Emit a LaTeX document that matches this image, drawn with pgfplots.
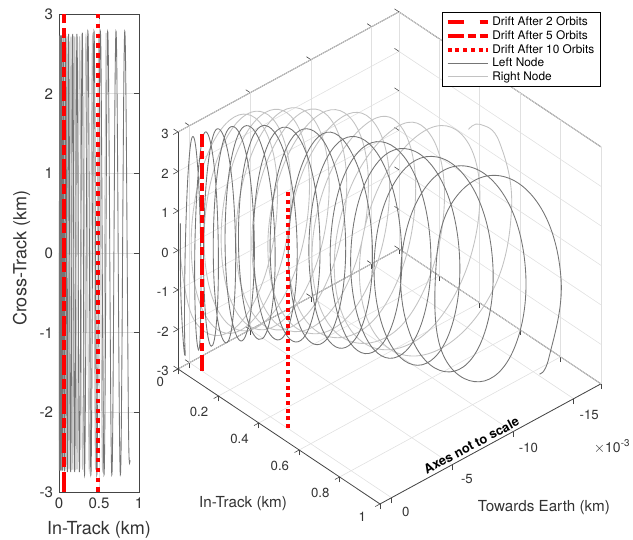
\documentclass[border=0pt]{standalone}
\usepackage{pgfplots}
\usepackage{pgfplotstable}
\usepackage{fontspec}
\setmainfont{TeX Gyre Heros}
\pgfplotsset{compat=1.18}
\definecolor{axc}{gray}{0.27}
\definecolor{darkc}{gray}{0.46}
\definecolor{lightc}{gray}{0.76}
\definecolor{gridc}{gray}{0.88}
% in-track (km), towards earth (1e-3 km), cross-track (km)
\pgfplotstableread{
0 0.8 0
0.004 -0.26 -1.92
0.008 -3.05 -2.72
0.0107 -5.82 -1.92
0.0133 -7.02 0
0.016 -5.99 1.92
0.0186 -3.39 2.72
0.0205 -0.79 1.92
0.0223 0.23 0
0.0242 -0.97 -1.92
0.026 -3.75 -2.72
0.0283 -6.61 -1.92
0.0305 -7.85 0
0.0328 -6.81 1.92
0.035 -4.15 2.72
0.0388 -1.52 1.92
0.0425 -0.5 0
0.0463 -1.77 -1.92
0.05 -4.65 -2.72
0.0548 -7.59 -1.92
0.0595 -8.88 0
0.0643 -7.82 1.92
0.069 -5.1 2.72
0.073 -2.38 1.92
0.077 -1.33 0
0.081 -2.61 -1.92
0.085 -5.55 -2.72
0.089 -8.62 -1.92
0.093 -9.95 0
0.097 -8.82 1.92
0.101 -5.95 2.72
0.107 -3.08 1.92
0.113 -1.95 0
0.119 -3.28 -1.92
0.125 -6.35 -2.72
0.131 -9.33 -1.92
0.1375 -10.65 0
0.144 -9.53 1.92
0.15 -6.75 2.72
0.156 -3.67 1.92
0.1615 -2.45 0
0.167 -3.87 -1.92
0.173 -7.15 -2.72
0.179 -10.29 -1.92
0.185 -11.65 0
0.191 -10.49 1.92
0.197 -7.55 2.72
0.204 -4.26 1.92
0.211 -2.95 0
0.218 -4.46 -1.92
0.225 -7.95 -2.72
0.233 -11.11 -1.92
0.2415 -12.45 0
0.25 -11.31 1.92
0.258 -8.35 2.72
0.267 -4.87 1.92
0.2765 -3.5 0
0.286 -5.12 -1.92
0.295 -8.85 -2.72
0.3055 -12 -1.92
0.316 -13.35 0
0.3265 -12.25 1.92
0.337 -9.35 2.72
0.347 -5.63 1.92
0.3575 -4.15 0
0.368 -5.83 -1.92
0.378 -9.75 -2.72
0.3885 -12.97 -1.92
0.399 -14.35 0
0.4095 -13.14 1.92
0.42 -10.1 2.72
0.4295 -6.18 1.92
0.439 -4.63 0
0.4485 -6.41 -1.92
0.458 -10.55 -2.72
0.468 -14.33 -1.92
0.478 -15.95 0
0.488 -14.56 1.92
0.498 -11 2.72
0.51 -6.94 1.92
0.5215 -5.33 0
0.533 -7.17 -1.92
0.545 -11.45 -2.72
0.557 -15.65 -1.92
0.5695 -17.05 0
0.582 -15.85 1.92
0.588 -14.15 2.68
0.591 -13.15 2.73
}\rightnode
\pgfplotstableread{
0 0.75 0.65
0.001 0.75 -0.9
0.003 0.6 -2.2
0.005 0.45 -2.72
0.0058 0.51 -1.86
0.0065 0.45 0.1
0.0073 0.21 2
0.008 -0.15 2.73
0.009 -0.53 1.86
0.01 -0.75 -0.1
0.011 -0.73 -2
0.012 -0.55 -2.73
0.0135 -0.26 -1.86
0.015 -0.2 0.1
0.0165 -0.51 2
0.018 -1.05 2.73
0.02 -1.7 1.75
0.022 -2 -0.24
0.024 -1.85 -2.09
0.026 -1.35 -2.72
0.0273 -0.84 -1.75
0.0285 -0.7 0.24
0.0298 -1.09 2.09
0.031 -1.85 2.72
0.0345 -2.73 1.75
0.038 -3.15 -0.24
0.0415 -2.93 -2.09
0.045 -2.25 -2.72
0.047 -1.43 -1.75
0.049 -1.15 0.24
0.051 -1.63 2.09
0.053 -2.65 2.72
0.0573 -3.78 1.75
0.0615 -4.3 -0.24
0.0658 -3.98 -2.09
0.07 -3.05 -2.72
0.0738 -2.02 -1.58
0.0775 -1.65 0.48
0.0813 -2.22 2.25
0.085 -3.45 2.71
0.09 -4.82 1.58
0.095 -5.45 -0.48
0.1 -5.07 -2.25
0.105 -3.95 -2.71
0.1093 -2.65 -1.58
0.1135 -2.15 0.48
0.1178 -2.8 2.25
0.122 -4.25 2.71
0.1285 -5.86 1.58
0.135 -6.6 -0.48
0.1415 -6.11 -2.25
0.148 -4.75 -2.71
0.1543 -3.2 -1.58
0.1605 -2.6 0.48
0.1668 -3.35 2.25
0.173 -5.05 2.71
0.1793 -6.85 1.58
0.1855 -7.65 -0.48
0.1918 -7.05 -2.25
0.198 -5.45 -2.71
0.205 -3.76 -1.58
0.212 -3.13 0.48
0.219 -3.99 2.25
0.226 -5.9 2.71
0.2338 -7.93 1.58
0.2415 -8.83 -0.48
0.2493 -8.1 -2.25
0.257 -6.25 -2.71
0.266 -4.33 -1.58
0.275 -3.6 0.48
0.284 -4.58 2.25
0.293 -6.75 2.71
0.3 -8.99 1.39
0.3075 -9.95 -0.72
0.3148 -9.09 -2.41
0.322 -6.95 -2.69
0.333 -4.9 -1.39
0.3435 -4.15 0.72
0.354 -5.25 2.41
0.365 -7.65 2.69
0.374 -10.08 1.39
0.3835 -11.1 -0.72
0.393 -10.13 -2.41
0.402 -7.75 -2.69
0.412 -5.46 -1.39
0.4215 -4.6 0.72
0.431 -5.81 2.41
0.441 -8.45 2.69
0.45 -11.13 1.39
0.4585 -12.25 -0.72
0.467 -11.18 -2.41
0.476 -8.55 -2.69
0.487 -5.99 -1.39
0.4985 -5 0.72
0.51 -6.24 2.41
0.521 -9.05 2.69
0.5325 -11.96 1.39
0.544 -13.2 -0.72
0.5555 -12.11 -2.41
0.567 -9.35 -2.69
0.5785 -6.52 -1.39
0.59 -5.4 0.72
0.6015 -6.72 2.41
0.613 -9.75 2.69
0.626 -12.94 1.39
0.639 -14.35 -0.72
0.652 -13.24 -2.41
0.665 -10.35 -2.69
0.678 -7.2 -1.39
0.691 -5.9 0.72
0.704 -7.25 2.41
0.717 -10.45 2.69
0.7308 -13.82 1.39
0.7445 -15.3 -0.72
0.7583 -14.12 -2.41
0.772 -11.05 -2.69
0.7858 -7.78 -1.39
0.7995 -6.95 0.72
0.8133 -7.9 2.41
0.827 -11.25 2.69
0.842 -14.8 1.39
0.857 -16.35 -0.72
0.872 -15.1 -2.41
0.8875 -14.05 -2.6
}\leftnode
\tikzset{
 drifttwo/.style={red,line width=3pt,dash pattern=on 12pt off 12pt},
 driftfive/.style={red,line width=3pt,dash pattern=on 12pt off 3pt on 6pt off 3pt},
 driftten/.style={red,line width=3pt,dash pattern=on 3pt off 2.8pt},
 drifttwob/.style={red,line width=3pt,dash pattern=on 14.6pt off 14.7pt},
 driftfiveb/.style={red,line width=3pt,dash pattern=on 15pt off 3.4pt on 7.5pt off 3.4pt},
 drifttenb/.style={red,line width=3pt,dash pattern=on 3.4pt off 4pt},
 leftline/.style={darkc,line width=0.65pt},
 rightline/.style={lightc,line width=0.65pt}
}
\begin{document}
\begin{tikzpicture}
\path[use as bounding box] (0pt,0pt) rectangle (474.75pt,405pt);
% ---- left view
\begin{axis}[
 at={(44.25pt,36pt)},anchor=south west,scale only axis,
 width=60pt,height=358.5pt,
 xmin=0,xmax=1,ymin=-3,ymax=3,
 xtick={0,0.5,1},xticklabels={0,0.5,1},
 ytick={-3,-2,-1,0,1,2,3},yticklabels={-3,-2,-1,0,1,2,3},
 tick align=inside,tick pos=both,major tick length=3.5pt,
 axis line style={axc,line width=0.55pt},tick style={axc,line width=0.45pt},
 grid=major,grid style={gridc,line width=0.4pt},
 ticklabel style={font=\fontsize{11.3pt}{13pt}\selectfont,text=black!80},
 xticklabel style={yshift=-1pt},
 yticklabel style={xshift=-1pt},
 xlabel={In-Track (km)},ylabel={Cross-Track (km)},
 label style={font=\fontsize{13.5pt}{15pt}\selectfont,text=black!80},
 xlabel style={yshift=-2.5pt},
 ylabel style={yshift=0.25pt,xshift=-3.75pt},
 clip=true,axis on top=false]
\addplot[rightline,smooth,tension=0.68] table[x index=0,y index=2] {\rightnode};
\addplot[leftline,smooth,tension=0.68] table[x index=0,y index=2] {\leftnode};
\addplot[drifttwob] coordinates {(0.065,-3) (0.065,3)};
\addplot[driftfiveb] coordinates {(0.065,-3) (0.065,3)};
\addplot[drifttenb] coordinates {(0.49,-3) (0.49,3)};
\end{axis}
% ---- 3-D view
\begin{axis}[
 at={(142.15pt,221.85pt)},anchor=origin,
 x={(151.5pt,-101.25pt)},y={(9.105pt,4.95pt)},z={(0pt,29.625pt)},
 y dir=reverse,
 xmin=0,xmax=1,ymin=-17.25,ymax=0.95,zmin=-3,zmax=3,
 xtick={0,0.2,0.4,0.6,0.8,1},xticklabels={0,0.2,0.4,0.6,0.8,1},
 ytick={-15,-10,-5,0},yticklabels={-15,-10,-5,0},
 ztick={-3,-2,-1,0,1,2,3},zticklabels={-3,-2,-1,0,1,2,3},
 axis line style={axc,line width=0.6pt},tick style={axc,line width=0.45pt},
 tick align=outside,tick pos=left,major tick length=4pt,
 grid=major,grid style={gridc,line width=0.45pt},
 ticklabel style={font=\fontsize{9.9pt}{12pt}\selectfont,text=black!80},
 xticklabel style={xshift=-5pt},
 yticklabel style={xshift=3pt},
 xlabel={In-Track (km)},ylabel={Towards Earth (km)},
 label style={font=\fontsize{11.4pt}{13pt}\selectfont,text=black!80,rotate=0},
 xlabel style={at={(axis cs:0.688,7.04,-3)},anchor=center,rotate=0,yshift=-1.5pt},
 ylabel style={at={(axis cs:1.368,-6.43,-3)},anchor=center,rotate=0,yshift=-2pt},
 clip=false,
 legend style={at={(axis cs:1,-17.25,6.42)},anchor=north east,
   draw=black,line width=0.7pt,fill=white,
   font=\fontsize{8.9pt}{10.5pt}\selectfont,
   legend cell align=left,inner xsep=2.6pt,inner ysep=1.5pt,row sep=-1.9pt},
 legend image code/.code={\draw[#1] (0pt,0pt) -- (30pt,0pt);},
]
\addlegendimage{drifttwo}\addlegendentry{Drift After 2 Orbits}
\addlegendimage{driftfive}\addlegendentry{Drift After 5 Orbits}
\addlegendimage{driftten}\addlegendentry{Drift After 10 Orbits}
\addlegendimage{leftline}\addlegendentry{Left Node}
\addlegendimage{rightline}\addlegendentry{Right Node}
\addplot3[rightline,smooth,tension=0.68,forget plot] table[x index=0,y index=1,z index=2] {\rightnode};
\addplot3[leftline,smooth,tension=0.68,forget plot] table[x index=0,y index=1,z index=2] {\leftnode};
\addplot3[drifttwo,forget plot] coordinates {(0.06,0,-3) (0.06,0,3)};
\addplot3[driftfive,forget plot] coordinates {(0.06,0,-3) (0.06,0,3)};
\addplot3[driftten,forget plot] coordinates {(0.485,0,-3) (0.485,0,3)};
\end{axis}
\node[font=\bfseries\fontsize{9.7pt}{11pt}\selectfont,rotate=28,text=black] at (353.5pt,71pt) {Axes not to scale};
\node[font=\fontsize{10.5pt}{12pt}\selectfont,text=black!80] at (459pt,70pt) {$\times$10\textsuperscript{-3}};
\end{tikzpicture}
\end{document}
